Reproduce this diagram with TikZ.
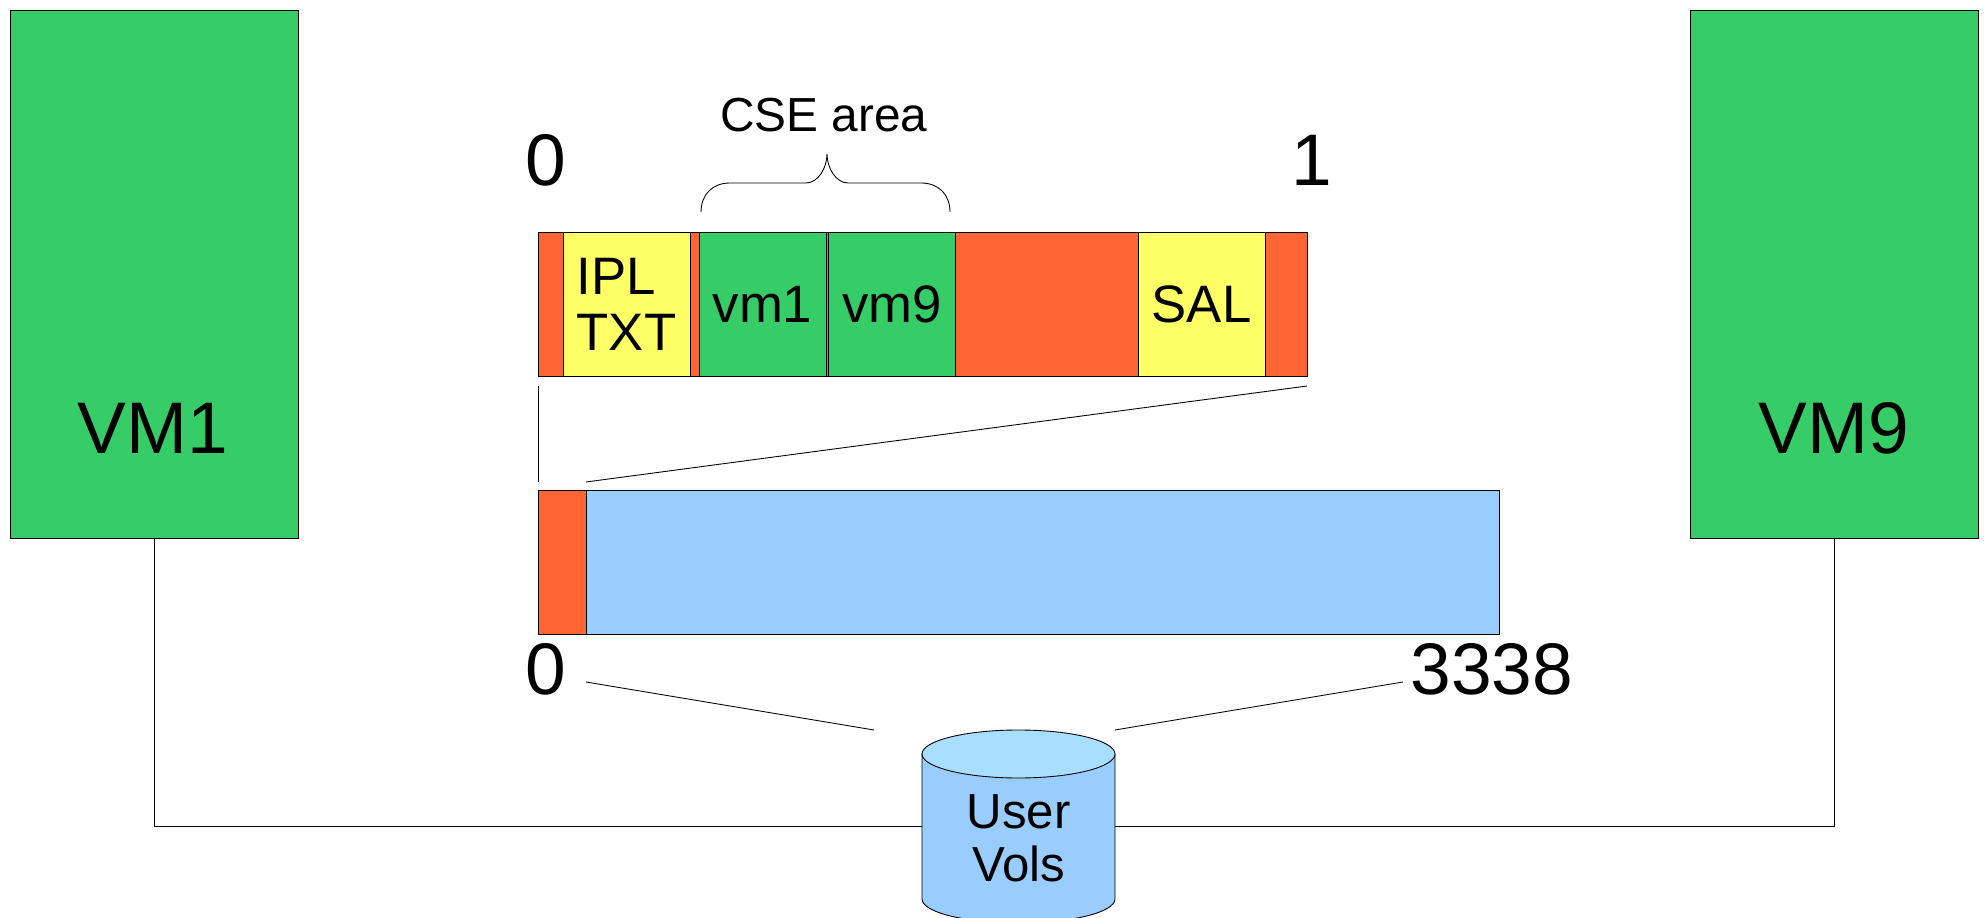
\documentclass[tikz,border=0pt]{standalone}
\usepackage{fontspec}
\setmainfont{Liberation Sans}
\definecolor{vmgreen}{HTML}{36CD68}
\definecolor{volred}{HTML}{FF6633}
\definecolor{sysyellow}{HTML}{FFFF66}
\definecolor{volblue}{HTML}{99CCFF}
\definecolor{voltop}{HTML}{A8DEFF}
\tikzset{
	seg/.style 2 args={draw=black,line width=0.5pt,anchor=north west,inner sep=0pt,outer sep=0pt,
		minimum width=#1*0.02cm,minimum height=#2*0.02cm},
	mark label/.style={inner sep=0pt,font=\fontsize{41.6}{44}\selectfont},
	seg label/.style={inner sep=0pt,font=\fontsize{30}{32}\selectfont},
	thin line/.style={black,line width=0.5pt},
}
\begin{document}
\begin{tikzpicture}[x=0.02cm,y=-0.02cm]
	\useasboundingbox (0,0) rectangle (1984,918);
	% Connectors behind the volume
	\node [seg={193}{145},draw=none,anchor=center] (uservols) at (1018.5,826.5) {};
	\node [seg={288}{528},fill=vmgreen] (vmleft) at (10,10) {};
	\node [seg={288}{528},fill=vmgreen] (vmright) at (1690.5,10) {};
	\draw [thin line] (vmleft.south) |- (uservols.west);
	\draw [thin line] (vmright.south) |- (uservols.east);
	\node [mark label] (vmleftname) at (153,428) {VM1};
	\node [mark label] (vmrightname) at (1834,428) {VM9};
	% Upper bar
	\node [seg={769}{144},fill=volred] (upperbar) at (538.5,232) {};
	\node [seg={127}{144},fill=sysyellow,seg label,align=left] (ipltxt) at (563,232) {IPL\\TXT};
	\node [seg={127}{144},fill=vmgreen,seg label] (cseone) at (699,232) {vm1};
	\node [seg={127}{144},fill=vmgreen,seg label] (csenine) at (828.5,232) {vm9};
	\node [seg={127}{144},fill=sysyellow,seg label] (sal) at (1138,232) {SAL};
	% Lower bar
	\node [seg={961}{144},fill=volblue] (lowerbar) at (538.5,490) {};
	\node [seg={48}{144},fill=volred] (lowerstart) at (538.5,490) {};
	% Numbers and brace
	\node [mark label] (upperzero) at (546,160) {0};
	\node [mark label] (upperone) at (1312,160) {1};
	\node [mark label] (lowerzero) at (546,669) {0};
	\node [mark label] (lowerend) at (1492,669) {3338};
	\node [inner sep=0pt,font=\fontsize{27.2}{29}\selectfont] (csearea) at (824,115) {CSE area};
	\draw [thin line] (701,212) .. controls (701,195) and (712,183) .. (730,183) -- (806,183)
		.. controls (818,183) and (827,168) .. (827,154)
		.. controls (827,168) and (836,183) .. (848,183) -- (921,183)
		.. controls (939,183) and (950,195) .. (950,212);
	% Zoom lines
	\coordinate (upperleft) at (538.5,386);
	\coordinate (upperright) at (1307,386);
	\coordinate (lowerleft) at (538.5,482);
	\coordinate (lowerright) at (586,482);
	\draw [thin line] (upperleft) -- (lowerleft);
	\draw [thin line] (upperright) -- (lowerright);
	\coordinate (zeroend) at (586,682);
	\coordinate (endend) at (1403,682);
	\coordinate (volleft) at (874,730);
	\coordinate (volright) at (1115,730);
	\draw [thin line] (zeroend) -- (volleft);
	\draw [thin line] (endend) -- (volright);
	% Volume
	\draw [thin line,fill=volblue] (922,754) -- (922,899) arc [x radius=96.5,y radius=24,start angle=180,end angle=0] -- (1115,754) -- cycle;
	\draw [thin line,fill=voltop] (1018.5,754) ellipse [x radius=96.5,y radius=24];
	\node [seg label,align=center,font=\fontsize{28}{30.5}\selectfont] (uservolsname) at (1018.5,838.5) {User\\Vols};
\end{tikzpicture}
\end{document}
